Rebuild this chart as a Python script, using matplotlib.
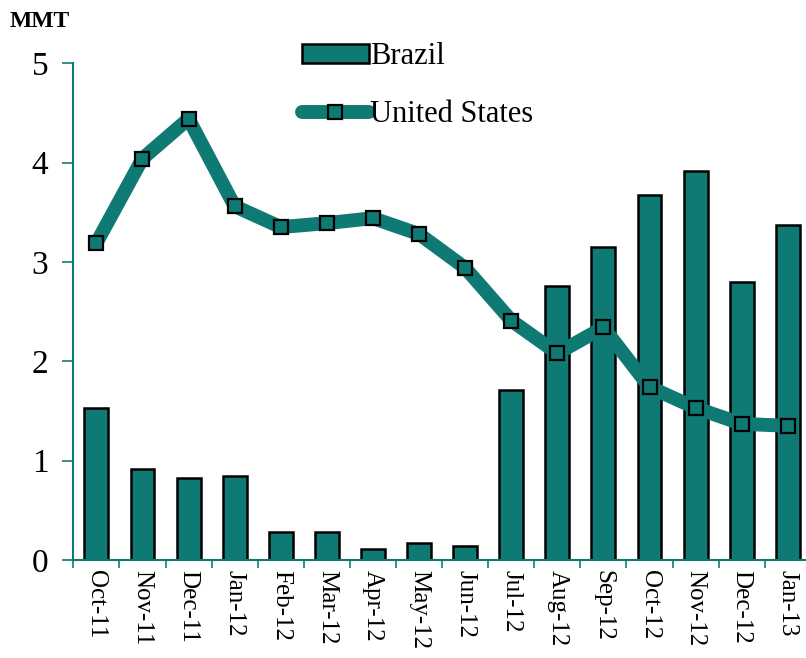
import numpy as np
import matplotlib
matplotlib.use("Agg")
import matplotlib.pyplot as plt

months = ["Oct-11", "Nov-11", "Dec-11", "Jan-12", "Feb-12", "Mar-12", "Apr-12", "May-12",
          "Jun-12", "Jul-12", "Aug-12", "Sep-12", "Oct-12", "Nov-12", "Dec-12", "Jan-13"]
brazil = [1.53, 0.92, 0.82, 0.85, 0.28, 0.28, 0.11, 0.17,
          0.14, 1.71, 2.76, 3.15, 3.67, 3.91, 2.80, 3.37]
united_states = [3.19, 4.04, 4.44, 3.56, 3.35, 3.39, 3.44, 3.28,
                 2.94, 2.41, 2.08, 2.34, 1.74, 1.53, 1.37, 1.35]

teal = "#0f7a74"
plt.rcParams['font.family'] = ['Liberation Serif', 'DejaVu Serif']

fig = plt.figure(figsize=(8.06, 6.58), dpi=100)
ax = fig.add_axes([0.091, 0.149, 0.915, 0.755])

x = np.arange(len(months))
bars = ax.bar(x, brazil, width=0.52, color=teal, edgecolor="black", linewidth=1.8,
              label="Brazil", zorder=2)
line, = ax.plot(x, united_states, color=teal, linewidth=10, marker="s", markersize=10,
                markerfacecolor=teal, markeredgecolor="black", markeredgewidth=1.6,
                solid_joinstyle="round", solid_capstyle="round",
                label="United States", zorder=3)

ax.set_ylim(0, 5)
ax.set_xlim(-0.5, 15.5)
ax.set_yticks([0, 1, 2, 3, 4, 5])
ax.tick_params(axis="y", labelsize=24, length=8, width=1.2, color=teal, pad=10)
ax.set_xticks(x)
ax.set_xticklabels(months, rotation=270, fontsize=18)
ax.tick_params(axis="x", length=0, pad=7)
ax.set_xticks(np.arange(-0.5, 15.5, 1), minor=True)
ax.tick_params(axis="x", which="minor", length=6, width=1.2, color=teal)

for side in ["top", "right"]:
    ax.spines[side].set_visible(False)
for side in ["left", "bottom"]:
    ax.spines[side].set_color(teal)
    ax.spines[side].set_linewidth(1.5)

fig.text(0.012, 0.968, "MMT", fontsize=17, fontweight="bold", va="center")

fig.legend([bars, line], ["Brazil", "United States"], loc="upper left",
           bbox_to_anchor=(0.34, 0.978), frameon=False, fontsize=22,
           handlelength=2.2, handleheight=0.6, handletextpad=0.05, labelspacing=0.95)

fig.savefig("out.png", dpi=100)
